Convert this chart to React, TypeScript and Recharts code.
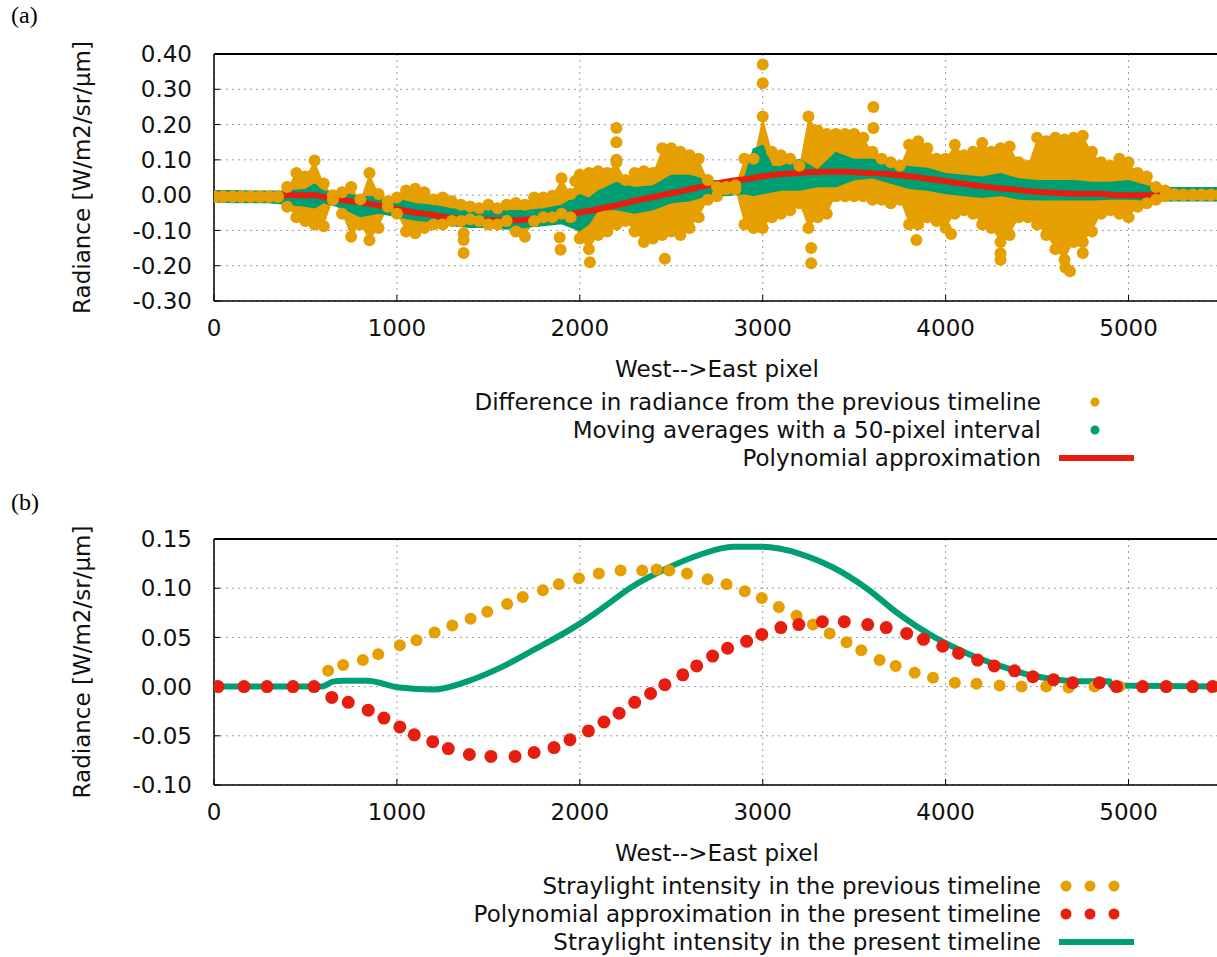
import React from "react";
import {
  ComposedChart,
  XAxis,
  YAxis,
  CartesianGrid,
  Area,
  Line,
  Scatter,
} from "recharts";

const FONT = "'DejaVu Sans', sans-serif";
const ORANGE = "#E69F00";
const GREEN = "#009E73";
const RED = "#E51E10";

const pixelTicks = [0, 1000, 2000, 3000, 4000, 5000];
const radianceTicksA = [-0.3, -0.2, -0.1, 0, 0.1, 0.2, 0.3, 0.4];
const radianceTicksB = [-0.1, -0.05, 0, 0.05, 0.1, 0.15];

// (a) difference from the previous timeline: highest / lowest point in each 50-pixel bin
const diffX = [
  0, 50, 100, 150, 200, 250, 300, 350, 400, 450, 500, 550, 600, 650, 700, 750, 800, 850, 900, 950,
  1000, 1050, 1100, 1150, 1200, 1250, 1300, 1350, 1400, 1450, 1500, 1550, 1600, 1650, 1700, 1750, 1800, 1850, 1900, 1950,
  2000, 2050, 2100, 2150, 2200, 2250, 2300, 2350, 2400, 2450, 2500, 2550, 2600, 2650, 2700, 2750, 2800, 2850, 2900, 2950,
  3000, 3050, 3100, 3150, 3200, 3250, 3300, 3350, 3400, 3450, 3500, 3550, 3600, 3650, 3700, 3750, 3800, 3850, 3900, 3950,
  4000, 4050, 4100, 4150, 4200, 4250, 4300, 4350, 4400, 4450, 4500, 4550, 4600, 4650, 4700, 4750, 4800, 4850, 4900, 4950,
  5000, 5050, 5100, 5150, 5200, 5250, 5300, 5350, 5400, 5450, 5500,
];
const diffHigh = [
  -0.003, -0.003, -0.003, -0.003, -0.003, -0.003, -0.003, -0.003, 0.023, 0.063, 0.053, 0.098, 0.033, 0.0, 0.008, 0.023, -0.012, 0.063, 0.003, -0.017,
  -0.007, 0.013, 0.018, 0.008, -0.012, -0.007, -0.017, -0.027, -0.032, -0.037, -0.027, -0.037, -0.027, -0.022, -0.027, -0.007, -0.007, -0.002, 0.048, 0.003,
  0.058, 0.063, 0.068, 0.063, 0.093, 0.043, 0.063, 0.068, 0.063, 0.133, 0.133, 0.123, 0.113, 0.103, 0.043, 0.023, 0.023, 0.028, 0.103, 0.103,
  0.223, 0.123, 0.113, 0.103, 0.083, 0.223, 0.183, 0.173, 0.173, 0.173, 0.173, 0.163, 0.123, 0.103, 0.093, 0.083, 0.143, 0.153, 0.133, 0.103,
  0.103, 0.143, 0.113, 0.123, 0.148, 0.123, 0.133, 0.138, 0.093, 0.083, 0.163, 0.153, 0.163, 0.158, 0.163, 0.168, 0.123, 0.093, 0.083, 0.103,
  0.093, 0.063, 0.053, 0.023, 0.013, 0.003, 0.002, 0.002, 0.002, 0.002, 0.002,
];
const diffLow = [
  -0.005, -0.005, -0.005, -0.005, -0.005, -0.005, -0.005, -0.005, -0.033, -0.063, -0.073, -0.083, -0.088, -0.013, -0.053, -0.118, -0.083, -0.128, -0.093, -0.033,
  -0.053, -0.103, -0.108, -0.093, -0.083, -0.083, -0.073, -0.073, -0.068, -0.073, -0.083, -0.083, -0.073, -0.103, -0.118, -0.073, -0.063, -0.063, -0.053, -0.063,
  -0.123, -0.153, -0.113, -0.103, -0.083, -0.073, -0.103, -0.133, -0.123, -0.113, -0.103, -0.113, -0.093, -0.063, -0.013, -0.003, 0.017, 0.017, -0.083, -0.093,
  -0.093, -0.063, -0.053, -0.043, -0.023, -0.093, -0.063, -0.053, -0.003, -0.003, -0.003, -0.003, -0.013, -0.013, -0.023, -0.013, -0.083, -0.083, -0.063, -0.073,
  -0.093, -0.053, -0.043, -0.053, -0.083, -0.093, -0.133, -0.113, -0.063, -0.063, -0.083, -0.113, -0.153, -0.183, -0.133, -0.133, -0.103, -0.053, -0.043, -0.053,
  -0.063, -0.033, -0.023, -0.013, -0.003, 0, 0.0, 0.0, 0.0, 0.0, 0.0,
];

// isolated points sticking out of the cloud
const strayX = [1365, 1365, 1365, 1890, 1895, 1975, 2055, 2200, 2200, 2200, 2465, 3000, 3000, 3265, 3265, 3605, 3605, 3840, 4030, 4300, 4300, 4655, 4680, 4750];
const strayY = [-0.108, -0.127, -0.164, -0.12, -0.155, 0.04, -0.19, 0.1, 0.15, 0.19, -0.18, 0.37, 0.317, -0.15, -0.193, 0.25, 0.19, -0.127, -0.11, -0.165, -0.183, -0.205, -0.216, -0.164];

// 50-pixel moving averages: band edges
const avgX = [
  0, 100, 200, 300, 400, 500, 550, 600, 700, 800, 900, 1000, 1100, 1200, 1300, 1400, 1500, 1600, 1700, 1800, 1900, 2000, 2050, 2100,
  2200, 2300, 2400, 2500, 2600, 2700, 2800, 2900, 2950, 3000, 3050, 3100, 3200, 3300, 3400, 3500, 3600, 3700, 3800, 3900,
  4000, 4100, 4200, 4300, 4400, 4500, 4600, 4700, 4800, 4900, 5000, 5100, 5200, 5300, 5400, 5500,
];
const avgHigh = [
  0.012, 0.012, 0.01, 0.01, 0.01, 0.015, 0.03, 0.01, 0.005, -0.005, -0.005, -0.012, -0.025, -0.03, -0.04, -0.045, -0.045, -0.045, -0.045, -0.04, -0.03, 0.0, -0.01, 0.01,
  0.035, 0.02, 0.025, 0.055, 0.055, 0.04, 0.04, 0.045, 0.13, 0.14, 0.08, 0.08, 0.1, 0.07, 0.12, 0.1, 0.1, 0.09, 0.08, 0.075,
  0.06, 0.055, 0.05, 0.06, 0.045, 0.04, 0.04, 0.04, 0.035, 0.035, 0.04, 0.025, 0.02, 0.02, 0.02, 0.02,
];
const avgLow = [
  -0.018, -0.02, -0.02, -0.02, -0.025, -0.03, -0.035, -0.02, -0.035, -0.06, -0.05, -0.06, -0.07, -0.075, -0.085, -0.09, -0.09, -0.095, -0.09, -0.085, -0.08, -0.1, -0.08, -0.04,
  -0.04, -0.05, -0.04, -0.02, -0.015, 0.0, 0.0, 0.005, 0.0, 0.005, 0.01, 0.015, 0.015, 0.025, 0.025, 0.045, 0.05, 0.035, 0.02, 0.015,
  0.005, 0.0, -0.005, 0.0, -0.01, -0.012, -0.012, -0.012, -0.012, -0.01, -0.01, -0.013, -0.015, -0.015, -0.015, -0.015,
];

// polynomial approximation of the present timeline (line in (a), dots in (b))
const polyX = [
  22, 164, 290, 432, 547, 644, 734, 843, 929, 1016, 1095, 1196, 1281, 1396, 1514, 1646, 1750, 1859, 1946, 2047,
  2132, 2215, 2300, 2387, 2465, 2563, 2639, 2726, 2808, 2912, 2995, 3099, 3197, 3326, 3446, 3574, 3675, 3787, 3879, 3984,
  4071, 4175, 4266, 4377, 4477, 4590, 4694, 4841, 4934, 5077, 5206, 5350, 5459,
];
const polyY = [
  0, 0, 0, 0, 0, -0.011, -0.016, -0.024, -0.032, -0.041, -0.049, -0.056, -0.063, -0.069, -0.071, -0.071, -0.067, -0.062, -0.054, -0.045,
  -0.036, -0.027, -0.016, -0.007, 0.002, 0.012, 0.021, 0.031, 0.039, 0.046, 0.053, 0.06, 0.063, 0.066, 0.066, 0.063, 0.06, 0.054, 0.048, 0.041,
  0.034, 0.027, 0.021, 0.016, 0.01, 0.007, 0.004, 0.004, 0, 0, 0, 0, 0,
];

// (b) straylight intensity in the previous timeline
const prevX = [
  624, 706, 814, 898, 1016, 1107, 1206, 1303, 1403, 1494, 1603, 1688, 1798, 1885, 1995, 2104, 2223, 2341, 2420, 2489,
  2586, 2699, 2802, 2902, 2995, 3088, 3185, 3275, 3366, 3458, 3539, 3639, 3727, 3831, 3931, 4050, 4169, 4295, 4415, 4550,
  4672, 4814, 4950, 5080, 5210, 5350, 5470,
];
const prevY = [
  0.016, 0.022, 0.027, 0.033, 0.042, 0.047, 0.055, 0.062, 0.069, 0.076, 0.084, 0.091, 0.098, 0.104, 0.11, 0.115, 0.118, 0.118, 0.119, 0.118,
  0.115, 0.109, 0.104, 0.097, 0.09, 0.081, 0.072, 0.063, 0.054, 0.045, 0.037, 0.027, 0.021, 0.014, 0.009, 0.004, 0.003, 0.001, 0, 0,
  -0.001, 0, 0, 0, 0, 0, 0,
];

// (b) straylight intensity in the present timeline
const presX = [
  0, 590, 650, 700, 835, 1016, 1197, 1381, 1563, 1745, 2000, 2110, 2290, 2474, 2656, 2838, 3000, 3202, 3385,
  3567, 3749, 3931, 4115, 4298, 4480, 4571, 4700, 4896, 4905, 5500,
];
const presY = [
  0, 0, 0.005, 0.006, 0.006, -0.001, -0.003, 0.005, 0.019, 0.037, 0.064, 0.078, 0.102, 0.12, 0.134, 0.142, 0.142, 0.135, 0.121,
  0.1, 0.073, 0.051, 0.034, 0.021, 0.011, 0.008, 0.0055, 0.0055, 0.001, 0,
];

const avgByX = new Map(avgX.map((x, i) => [x, [avgLow[i], avgHigh[i]]]));
const diffTable = diffX.map((x, i) => ({
  x,
  diff: [diffLow[i], diffHigh[i]],
  avg: avgByX.get(x),
}));
const toPoints = (xs: number[], ys: number[]) => xs.map((x, i) => ({ x, y: ys[i] }));
// the extreme points of every bin, drawn as dots so the cloud keeps its dotted edge
const diffEdgePoints = [...toPoints(diffX, diffHigh), ...toPoints(diffX, diffLow)];
const strayPoints = toPoints(strayX, strayY);
const polyPoints = toPoints(polyX, polyY);
const prevPoints = toPoints(prevX, prevY);
const presPoints = toPoints(presX, presY);

const tickStyle = { fontSize: 23, fill: "#111", fontFamily: FONT };
const gridColor = "#9a9a9a";
const axisLine = { stroke: "#000", strokeWidth: 1.5 };

// plot box: left edge at 214px, right edge at 1220px (just past the page)
const PLOT_LEFT = 214;
const PLOT_RIGHT = 1220;

const dotShape = (r: number, fill: string) => (p: any) =>
  <circle cx={p.cx} cy={p.cy} r={r} fill={fill} />;

type KeyRow = { label: string; color: string; kind: "dot" | "dots" | "line" };

function PlotKey({ top, rows }: { top: number; rows: KeyRow[] }) {
  return (
    <svg width={1217} height={rows.length * 28 + 4} style={{ position: "absolute", left: 0, top }}>
      {rows.map((row, i) => {
        const cy = 14 + i * 28;
        return (
          <g key={row.label}>
            <text x={1041} y={cy + 8} textAnchor="end" fontSize={23} fontFamily={FONT} fill="#111">
              {row.label}
            </text>
            {row.kind === "dot" && <circle cx={1095} cy={cy} r={4.5} fill={row.color} />}
            {row.kind === "dots" &&
              [1066, 1090, 1114].map((cx) => <circle key={cx} cx={cx} cy={cy} r={5.5} fill={row.color} />)}
            {row.kind === "line" && (
              <line x1={1059} x2={1134} y1={cy} y2={cy} stroke={row.color} strokeWidth={6} />
            )}
          </g>
        );
      })}
    </svg>
  );
}

// top edge of a plot frame
const FrameTop = ({ top }: { top: number }) => (
  <div
    style={{
      position: "absolute",
      left: PLOT_LEFT,
      top: top - 0.75,
      width: PLOT_RIGHT - PLOT_LEFT,
      height: 1.5,
      background: "#000",
    }}
  />
);

const tagStyle = (top: number): React.CSSProperties => ({
  position: "absolute",
  left: 11,
  top,
  fontFamily: "'Liberation Serif', serif",
  fontSize: 24,
});

const yTitle = "Radiance [W/m2/sr/µm]";
const xTitle = { value: "West-->East pixel", position: "insideBottom" as const, offset: 0, fontSize: 23, fill: "#111", fontFamily: FONT };
const yLabel = { value: yTitle, angle: -90, position: "insideLeft" as const, offset: 82, textAnchor: "middle" as const, fontSize: 23, fill: "#111", fontFamily: FONT };

export default function App() {
  return (
    <div
      style={{
        position: "absolute",
        left: 0,
        top: 0,
        width: 1217,
        height: 957,
        overflow: "hidden",
        background: "#fff",
      }}
    >
      <span style={tagStyle(2)}>(a)</span>
      <div style={{ position: "absolute", left: 0, top: 0 }}>
        <ComposedChart
          width={1240}
          height={390}
          data={diffTable}
          margin={{ top: 54, right: 1240 - PLOT_RIGHT, bottom: 13, left: 0 }}
        >
          <CartesianGrid stroke={gridColor} strokeDasharray="2 4" />
          <XAxis
            dataKey="x"
            type="number"
            domain={[0, 5500]}
            ticks={pixelTicks}
            allowDataOverflow
            height={76}
            tickSize={-6}
            tickMargin={25}
            tick={tickStyle}
            tickLine={{ stroke: "#000" }}
            axisLine={axisLine}
            label={xTitle}
          />
          <YAxis
            type="number"
            domain={[-0.3, 0.4]}
            ticks={radianceTicksA}
            allowDataOverflow
            width={PLOT_LEFT}
            tickSize={-6}
            tickMargin={28}
            tick={tickStyle}
            tickFormatter={(v: number) => v.toFixed(2)}
            tickLine={{ stroke: "#000" }}
            axisLine={axisLine}
            label={yLabel}
          />
          <Area dataKey="diff" type="linear" stroke="none" fill={ORANGE} fillOpacity={1} isAnimationActive={false} />
          <Scatter data={diffEdgePoints} dataKey="y" shape={dotShape(6, ORANGE)} isAnimationActive={false} />
          <Scatter data={strayPoints} dataKey="y" shape={dotShape(6, ORANGE)} isAnimationActive={false} />
          <Area
            dataKey="avg"
            type="linear"
            connectNulls
            stroke={GREEN}
            strokeWidth={2}
            fill={GREEN}
            fillOpacity={1}
            isAnimationActive={false}
          />
          <Line
            data={polyPoints}
            dataKey="y"
            type="monotone"
            stroke={RED}
            strokeWidth={6}
            dot={false}
            isAnimationActive={false}
          />
        </ComposedChart>
      </div>
      <FrameTop top={54} />
      <PlotKey
        top={388}
        rows={[
          { label: "Difference in radiance from the previous timeline", color: ORANGE, kind: "dot" },
          { label: "Moving averages with a 50-pixel interval", color: GREEN, kind: "dot" },
          { label: "Polynomial approximation", color: RED, kind: "line" },
        ]}
      />

      <span style={tagStyle(489)}>(b)</span>
      <div style={{ position: "absolute", left: 0, top: 480 }}>
        <ComposedChart width={1240} height={394} margin={{ top: 59, right: 1240 - PLOT_RIGHT, bottom: 13, left: 0 }}>
          <CartesianGrid stroke={gridColor} strokeDasharray="2 4" />
          <XAxis
            dataKey="x"
            type="number"
            domain={[0, 5500]}
            ticks={pixelTicks}
            allowDataOverflow
            height={76}
            tickSize={-6}
            tickMargin={25}
            tick={tickStyle}
            tickLine={{ stroke: "#000" }}
            axisLine={axisLine}
            label={xTitle}
          />
          <YAxis
            type="number"
            domain={[-0.1, 0.15]}
            ticks={radianceTicksB}
            allowDataOverflow
            width={PLOT_LEFT}
            tickSize={-6}
            tickMargin={28}
            tick={tickStyle}
            tickFormatter={(v: number) => v.toFixed(2)}
            tickLine={{ stroke: "#000" }}
            axisLine={axisLine}
            label={yLabel}
          />
          <Scatter data={prevPoints} dataKey="y" shape={dotShape(6, ORANGE)} isAnimationActive={false} />
          <Scatter data={polyPoints} dataKey="y" shape={dotShape(6.5, RED)} isAnimationActive={false} />
          <Line
            data={presPoints}
            dataKey="y"
            type="monotone"
            stroke={GREEN}
            strokeWidth={6}
            dot={false}
            isAnimationActive={false}
          />
        </ComposedChart>
      </div>
      <FrameTop top={539} />
      <PlotKey
        top={872}
        rows={[
          { label: "Straylight intensity in the previous timeline", color: ORANGE, kind: "dots" },
          { label: "Polynomial approximation in the present timeline", color: RED, kind: "dots" },
          { label: "Straylight intensity in the present timeline", color: GREEN, kind: "line" },
        ]}
      />
    </div>
  );
}
